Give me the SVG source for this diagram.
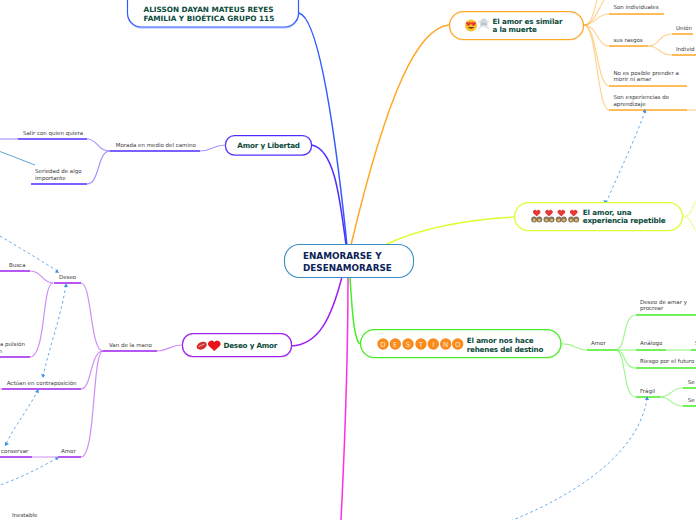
<svg xmlns="http://www.w3.org/2000/svg" width="696" height="520" viewBox="0 0 696 520">
<style>
text{font-family:"DejaVu Sans","Liberation Sans",sans-serif}
.s{font-size:5.5px;fill:#3a3a3a}
.t{font-size:7.2px;font-weight:700;fill:#0b4a3c}
.n{fill:#fff;stroke-width:1.1}
.h{fill:none;stroke-width:1.2;opacity:.45}
.c{fill:none;stroke-width:1.5}
.b{fill:none;stroke-width:1.2;opacity:.5}
.u{fill:none;stroke-width:1.5}
.d{fill:none;stroke:#64aaf0;stroke-width:1;stroke-dasharray:2.600 2.800}
.a{fill:#3c8ee6}
</style>
<defs>
<path id="heart" d="M0 3.500L-3.600 0a2 2 0 0 1 3.600-2a2 2 0 0 1 3.600 2z" fill="#e53935"/>
<g id="couple"><circle cx="-2.600" cy="0" r="2.900" fill="#7f7460"/><circle cx="2.600" cy="0" r="2.900" fill="#7f7460"/><circle cx="-2.600" cy=".6" r="1.500" fill="#e8b45a"/><circle cx="2.600" cy=".6" r="1.500" fill="#e8b45a"/></g>
</defs>
<g id="connectors">
<path class="c" stroke="#2f5cff" d="M299 13C318 18 334 120 347 245"/>
<path class="c" stroke="#ffa726" d="M449 25C418 28 388 90 351 245"/>
<path class="c" stroke="#4f2cff" d="M312 145C335 150 340 200 346 245"/>
<path class="c" stroke="#d8ff30" d="M514 217C465 220 420 228 385 245"/>
<path class="c" stroke="#a020f0" d="M291 346C320 345 332 315 342 277"/>
<path class="c" stroke="#44ee22" d="M360 344C354 340 352 310 350 277"/>
<path class="c" stroke="#ff2fe0" d="M348 277C348 350 345 440 341 520"/>
<g stroke="#ffa726">
<path class="b" d="M584 25C592 25 594 10 597 0"/>
<path class="b" d="M584 25C593 25 598 10 604 0"/>
<path class="b" d="M584 25C596 25 596 14 609 14"/>
<path class="b" d="M584 25C597 25 597 46 609 46"/>
<path class="b" d="M584 25C597 25 597 86 609 86"/>
<path class="b" d="M584 25C597 25 597 110 609 110"/>
<path class="b" d="M648 46C660 46 658 34 672 34"/>
<path class="b" d="M648 46C660 46 658 55 672 55"/>
<path class="b" d="M687 110H696"/>
<path class="u" d="M609 14H664M609 46H648M672 34H693M672 55H696M609 86H687M609 110H687"/>
</g>
<g stroke="#d8ff30">
<path class="b" d="M683 216C690 218 692 208 696 201"/>
<path class="b" d="M683 216C690 216 692 226 696 231"/>
</g>
<g stroke="#44ee22">
<path class="b" d="M561 344C575 343 575 350 587 350"/>
<path class="b" d="M615 350C627 350 622 315 636 315"/>
<path class="b" d="M615 350H636"/>
<path class="b" d="M615 350C627 350 622 368 636 368"/>
<path class="b" d="M615 350C627 350 622 397 636 397"/>
<path class="b" d="M660 397C672 397 670 388 683 388"/>
<path class="b" d="M660 397C672 397 670 406 683 406"/>
<path class="b" d="M666 350H691"/>
<path class="u" d="M587 350H615M636 315H696M636 350H666M691 350H696M636 368H696M636 397H660M683 388H696M683 406H696"/>
</g>
<g stroke="#4f2cff">
<path class="b" d="M226 145C212 145 212 151 200 151"/>
<path class="b" d="M110 151C97 151 98 139 87 139"/>
<path class="b" d="M110 151C97 151 100 184 87 184"/>
<path class="b" d="M18 139H0"/>
<path class="u" d="M110 151H200M18 139H87M31 184H87"/>
</g>
<path fill="none" stroke="#4c9ad0" stroke-width=".9" d="M0 151.500L35 165"/>
<g stroke="#a020f0">
<path class="b" d="M182 345C170 345 168 351 157 351"/>
<path class="b" d="M103 351C90 351 92 283 81 283"/>
<path class="b" d="M103 351C90 351 92 389 81 389"/>
<path class="b" d="M103 351C92 351 96 457 81 457"/>
<path class="b" d="M53 283C42 283 42 271 30 271"/>
<path class="b" d="M53 283C42 283 46 357 30 357"/>
<path class="b" d="M58 457H32M2 389H0"/>
<path class="u" d="M103 351H157M54 283H81M0 271H30M0 357H30M2 389H81M0 457H32M58 457H81"/>
</g>
<path class="d" d="M645 111C635 140 620 170 606 203"/>
<path class="d" d="M0 236C20 248 40 260 59 272"/>
<path class="d" d="M66 285C60 320 50 345 43 376"/>
<path class="d" d="M38 390C28 410 15 425 6 444"/>
<path class="d" d="M57 458C40 468 20 478 0 485"/>
<path class="d" d="M647 398C640 450 580 495 500 525"/>
<path class="a" d="M645 109l1.500 4-4-1zM605 204l-1.500-4 4 1zM59 273l-4-.5 2-3.500zM66 283l2 4-4 0zM43 378l-2-4 4 1zM38 389l1 4-4-1zM5 446l0-4 4 2zM59 457l-2 3.500-2-3zM647 396l2 4-4 0z"/>
</g>
<g id="root"><rect class="n" stroke="#3b8ec4" x="284.500" y="244.500" width="129" height="33" rx="15"/>
<text x="303" y="259" style="font-size:8.800px;font-weight:700;fill:#0d2358">ENAMORARSE Y</text>
<text x="303" y="270.500" style="font-size:8.800px;font-weight:700;fill:#0d2358">DESENAMORARSE</text></g>
<g id="n-alisson"><rect class="n" stroke="#2f5cff" x="127.500" y="-14" width="171" height="41" rx="14"/>
<rect class="h" stroke="#2f5cff" x="127.500" y="-13" width="171" height="41" rx="14"/>
<text class="t" x="143.500" y="12" style="font-size:7.300px">ALISSON DAYAN MATEUS REYES</text>
<text class="t" x="143.500" y="21" style="font-size:7.300px">FAMILIA Y BIOÉTICA GRUPO 115</text></g>
<g id="n-muerte"><rect class="n" stroke="#ffa726" x="449.500" y="11.500" width="134" height="28" rx="14"/>
<rect class="h" stroke="#ffa726" x="449.500" y="12" width="134" height="28" rx="14"/>
<circle cx="471" cy="25.500" r="6" fill="#fbc02d"/>
<use href="#heart" transform="translate(468.500 24) scale(.65)"/><use href="#heart" transform="translate(473.500 24) scale(.65)"/>
<path d="M467.500 27h7q-3.500 3.500-7 0z" fill="#6d3b12"/>
<path d="M480 23a3.800 3.800 0 1 1 7.500 0v3.500h-7.500z" fill="#cfd8dc"/>
<path d="M478 21l11 8M489 21l-11 8" stroke="#d8e0e4" stroke-width="1.200" fill="none"/>
<circle cx="482.500" cy="24" r=".8" fill="#8a979e"/><circle cx="485" cy="24" r=".8" fill="#8a979e"/>
<text class="t" x="492.500" y="24" textLength="70">El amor es similar</text>
<text class="t" x="492.500" y="32" textLength="44.300">a la muerte</text></g>
<g id="n-libertad"><rect class="n" stroke="#4f2cff" x="225.500" y="135.500" width="86" height="19.500" rx="9"/>
<rect class="h" stroke="#4f2cff" x="225.500" y="136" width="86" height="19.500" rx="9"/>
<text class="t" x="237.300" y="148" textLength="62.700">Amor y Libertad</text></g>
<g id="n-repetible"><rect class="n" stroke="#d8ff30" x="514.500" y="202.500" width="168" height="28" rx="14"/>
<rect class="h" stroke="#d8ff30" x="514.500" y="203" width="168" height="28" rx="14"/>
<use href="#heart" x="536.700" y="213"/><use href="#heart" x="549" y="213"/><use href="#heart" x="561.300" y="213"/><use href="#heart" x="573.700" y="213"/>
<use href="#couple" x="536.700" y="219.500"/><use href="#couple" x="549" y="219.500"/><use href="#couple" x="561.300" y="219.500"/><use href="#couple" x="573.700" y="219.500"/>
<text class="t" x="582.700" y="215" textLength="49">El amor, una</text>
<text class="t" x="582.700" y="223" textLength="83">experiencia repetible</text></g>
<g id="n-destino"><rect class="n" stroke="#44ee22" x="360.500" y="329.500" width="200.500" height="28" rx="14"/>
<rect class="h" stroke="#44ee22" x="360.500" y="330" width="200.500" height="28" rx="14"/>
<g fill="#f98a1c"><circle cx="383" cy="344" r="5.700"/><circle cx="395.300" cy="344" r="5.700"/><circle cx="408" cy="344" r="5.700"/><circle cx="421" cy="344" r="5.700"/><circle cx="433.300" cy="344" r="5.700"/><circle cx="445.700" cy="344" r="5.700"/><circle cx="457.700" cy="344" r="5.700"/></g>
<g style="font-size:7px;fill:#ffe9d2;text-anchor:middle"><text x="383" y="346.600">D</text><text x="395.300" y="346.600">E</text><text x="408" y="346.600">S</text><text x="421" y="346.600">T</text><text x="433.300" y="346.600">I</text><text x="445.700" y="346.600">N</text><text x="457.700" y="346.600">O</text></g>
<text class="t" x="466.700" y="342.500" textLength="67">El amor nos hace</text>
<text class="t" x="466.700" y="351.500" textLength="76.700">rehenes del destino</text></g>
<g id="n-deseoamor"><rect class="n" stroke="#a020f0" x="182.500" y="333.500" width="109" height="23" rx="10.500"/>
<rect class="h" stroke="#a020f0" x="182.500" y="334" width="109" height="23" rx="10.500"/>
<ellipse cx="201.700" cy="345.700" rx="5.300" ry="3.600" fill="#d32f2f" transform="rotate(-25 201.700 345.700)"/>
<path d="M198.500 346.500l6-2.500" stroke="#f7c5c5" stroke-width=".8" fill="none"/>
<path d="M214.300 351l-5.500-5a3.300 3.300 0 0 1 5.500-4a3.300 3.300 0 0 1 5.500 4z" fill="#e8141c"/>
<text class="t" x="223.400" y="348" textLength="54">Deseo y Amor</text></g>
<g id="labels">
<text class="s" x="613.500" y="9">Son individuales</text>
<text class="s" x="613.500" y="42">sus rasgos</text>
<text class="s" x="676" y="30">Unión</text>
<text class="s" x="676" y="51">Individ</text>
<text class="s" x="613.500" y="75">No es posible prender a</text>
<text class="s" x="613.500" y="81">morir ni amar</text>
<text class="s" x="613.500" y="99">Son experiencias de</text>
<text class="s" x="613.500" y="106">aprendizaje</text>
<text class="s" x="640" y="304">Deseo de amar y</text>
<text class="s" x="640" y="310">procrear</text>
<text class="s" x="640" y="345">Análogo</text>
<text class="s" x="695" y="345">S</text>
<text class="s" x="640" y="363">Riesgo por el futuro</text>
<text class="s" x="640" y="393">Frágil</text>
<text class="s" x="687.700" y="384">Se</text>
<text class="s" x="687.700" y="402">Se</text>
<text class="s" x="591" y="345">Amor</text>
<text class="s" x="115.700" y="147">Morada en medio del camino</text>
<text class="s" x="23" y="135">Salir con quien quiera</text>
<text class="s" x="35" y="173">Seriedad de algo</text>
<text class="s" x="35" y="180">importante</text>
<text class="s" x="109" y="347">Van de la mano</text>
<text class="s" x="59" y="279">Deseo</text>
<text class="s" x="9" y="267">Busca</text>
<text class="s" x="0" y="346">a pulsión</text>
<text class="s" x="-1.500" y="353">n</text>
<text class="s" x="6.700" y="385">Actúan en contraposición</text>
<text class="s" x="1" y="453">conservar</text>
<text class="s" x="61" y="453">Amor</text>
<text class="s" x="12" y="517">Inestable</text>
</g>
</svg>
